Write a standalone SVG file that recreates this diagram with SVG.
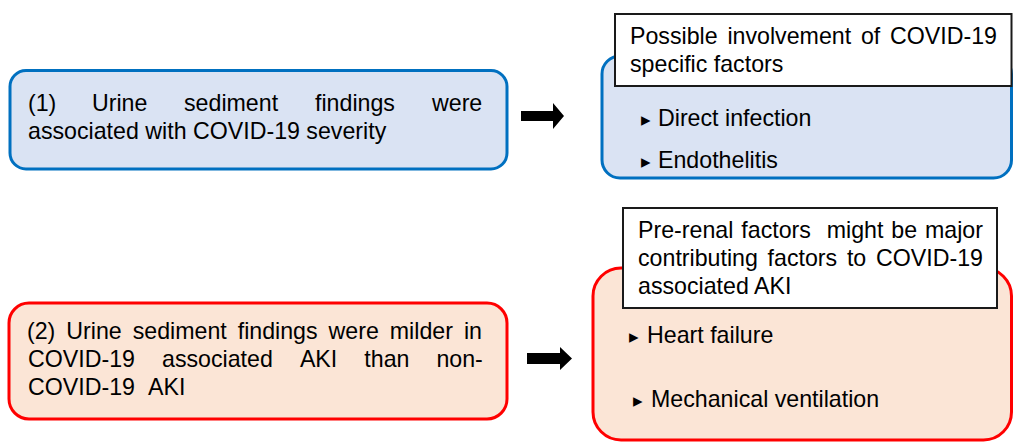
<svg xmlns="http://www.w3.org/2000/svg" width="1013" height="442" viewBox="0 0 1013 442">
<style>
text{font-family:"Liberation Sans",Arial,sans-serif;font-size:23.2px;fill:#000}
.blue{fill:#DAE3F3;stroke:#0070C0;stroke-width:3}
.red{fill:#FBE5D6;stroke:#FF0000;stroke-width:3}
.white{fill:#fff;stroke:#1a1a1a;stroke-width:2}
.bul{font-family:"DejaVu Sans",sans-serif;font-size:19px}
.arrow{fill:#000}
</style>
<rect width="1013" height="442" fill="#fff"/>
<g id="box1">
<rect class="blue" x="10" y="70.5" width="497" height="98.5" rx="16"/>
<text y="111"><tspan x="28">(1)</tspan><tspan x="92">Urine</tspan><tspan x="184">sediment</tspan><tspan x="315">findings</tspan><tspan x="432">were</tspan></text>
<text x="28" y="139">associated with COVID-19 severity</text>
</g>
<g id="box2">
<rect class="red" x="9" y="303" width="498" height="116" rx="20"/>
<text y="339"><tspan x="27">(2)</tspan><tspan x="66.3">Urine</tspan><tspan x="132.7">sediment</tspan><tspan x="237.7">findings</tspan><tspan x="328.6">were</tspan><tspan x="389.8">milder</tspan><tspan x="463.9">in</tspan></text>
<text y="367"><tspan x="28">COVID-19</tspan><tspan x="162">associated</tspan><tspan x="299.9">AKI</tspan><tspan x="364.3">than</tspan><tspan x="436.4">non-</tspan></text>
<text y="395"><tspan x="28">COVID-19</tspan><tspan x="148">AKI</tspan></text>
</g>
<g id="box3">
<rect class="blue" x="602" y="56" width="409.5" height="122" rx="18"/>
<text class="bul" x="641" y="126">▸</text>
<text x="658" y="126">Direct infection</text>
<text class="bul" x="641" y="168">▸</text>
<text x="658" y="168">Endothelitis</text>
</g>
<g id="label3">
<rect class="white" x="615" y="14" width="396.5" height="72"/>
<text y="44"><tspan x="630">Possible</tspan><tspan x="727.4">involvement</tspan><tspan x="860.9">of</tspan><tspan x="890">COVID-19</tspan></text>
<text x="630" y="72">specific factors</text>
</g>
<g id="box4">
<rect class="red" x="593" y="268" width="418.5" height="172" rx="28"/>
<text class="bul" x="629" y="343">▸</text>
<text x="647" y="343">Heart failure</text>
<text class="bul" x="633" y="407">▸</text>
<text x="651" y="407">Mechanical ventilation</text>
</g>
<g id="label4">
<rect class="white" x="623" y="208" width="374" height="100"/>
<text y="238"><tspan x="638">Pre-renal</tspan><tspan x="741.3">factors</tspan><tspan x="826.7">might</tspan><tspan x="891.3">be</tspan><tspan x="925">major</tspan></text>
<text y="266"><tspan x="638">contributing</tspan><tspan x="767.6">factors</tspan><tspan x="846.9">to</tspan><tspan x="876">COVID-19</tspan></text>
<text x="638" y="294">associated AKI</text>
</g>
<g id="connectors">
<polygon class="arrow" points="521,111 553,111 553,103 564,116 553,129 553,121 521,121"/>
<polygon class="arrow" points="527,353 560,353 560,347 572,358.5 560,370 560,364 527,364"/>
</g>
</svg>
